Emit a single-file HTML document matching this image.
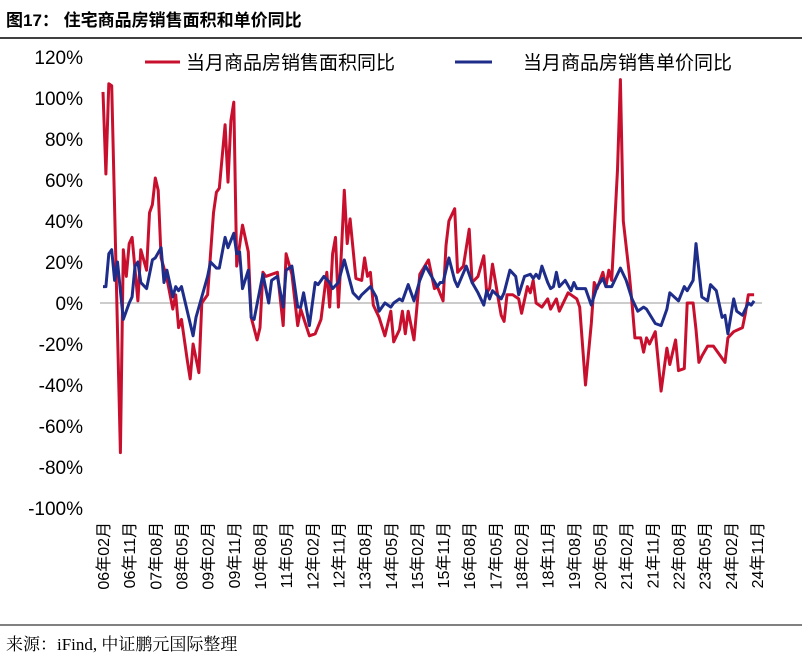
<!DOCTYPE html>
<html><head><meta charset="utf-8">
<style>
body{margin:0;background:#fff;width:802px;height:666px;overflow:hidden;font-family:"Liberation Sans","Noto Sans CJK SC",sans-serif;}
</style></head>
<body>
<svg id="c" width="802" height="666" xmlns="http://www.w3.org/2000/svg">
<text x="6" y="26" font-size="17" font-weight="bold" fill="#000" font-family="Liberation Sans, Noto Sans CJK SC, sans-serif">图17： 住宅商品房销售面积和单价同比</text>
<line x1="0" y1="38" x2="802" y2="38" stroke="#000" stroke-width="1.5"/>
<line x1="0" y1="625" x2="802" y2="625" stroke="#000" stroke-width="1"/>
<text x="6" y="650" font-size="17" fill="#000" font-family="Liberation Serif, Noto Serif CJK SC, serif">来源：iFind, 中证鹏元国际整理</text>
<g id="legend">
<line x1="145" y1="62" x2="180" y2="62" stroke="#c8102e" stroke-width="3"/>
<text x="186" y="69" font-size="19">当月商品房销售面积同比</text>
<line x1="455" y1="62" x2="492" y2="62" stroke="#1f2d8a" stroke-width="3"/>
<text x="523" y="69" font-size="19">当月商品房销售单价同比</text>
</g>
<g id="yaxis"></g>
<g id="xaxis"></g>
<g id="series"></g>
</svg>
<script>
const yTicks=[120,100,80,60,40,20,0,-20,-40,-60,-80,-100];
const xTickLabels=["06年02月","06年11月","07年08月","08年05月","09年02月","09年11月","10年08月","11年05月","12年02月","12年11月","13年08月","14年05月","15年02月","15年11月","16年08月","17年05月","18年02月","18年11月","19年08月","20年05月","21年02月","21年11月","22年08月","23年05月","24年02月","24年11月"];
const areaMonths=[0,1,2,3,6,7,8,9,10,12,13,15,16,17,18,19,20,22,24,25,26,27,29,30,31,33,34,36,38,39,40,42,43,44,45,46,48,50,51,53,54,55,56,60,62,63,65,67,68,71,73,75,77,78,79,80,81,82,83,84,85,87,89,90,91,92,93,95,97,99,100,102,103,104,105,107,109,112,114,115,117,118,119,121,122,124,126,127,129,131,132,133,134,136,137,138,139,141,143,144,146,147,148,149,151,153,154,156,157,160,161,163,164,166,168,169,170,172,173,174,175,177,178,179,181,182,183,185,186,187,188,190,192,194,195,197,198,200,201,203,204,205,206,208,210,212,214,215,217,220,221,222,224];
const areaValues=[103,63,107,106,-73,26,13,29,32,1,26,16,44,48,61,55,22,12,-3,4,-12,-8,-28,-37,-20,-34,0,4,44,54,56,87,59,89,98,18,38,25,-7,-18,-12,15,13,15,-11,24,14,-11,-3,-16,-15,-8,15,-2,24,32,-2,24,55,29,41,12,11,22,13,15,-1,-7,-16,-4,-19,-13,-4,-15,-4,-18,14,21,7,8,1,28,40,46,15,18,36,10,13,23,5,7,19,2,-6,-9,4,4,2,-5,8,5,11,0,-2,2,-3,2,-4,5,4,2,-2,-40,-10,10,7,15,8,16,11,65,109,40,15,0,-17,-17,-24,-17,-20,-14,-43,-22,-30,-18,-33,-32,0,0,-13,-29,-26,-21,-21,-25,-29,-17,-14,-12,-5,4,4];
const priceMonths=[0,1,2,3,4,5,7,9,10,11,12,13,15,17,18,20,21,22,24,25,26,27,31,32,34,36,37,39,40,42,43,45,46,47,48,50,51,52,55,57,58,60,62,63,65,67,68,69,71,73,74,76,78,79,81,83,86,88,89,92,94,95,97,99,100,102,103,105,107,109,111,113,115,116,117,119,121,122,125,127,129,131,132,133,134,137,138,140,142,143,145,147,148,149,150,151,153,154,155,156,157,159,161,162,163,166,168,170,172,173,175,178,180,182,184,186,187,190,192,194,195,198,200,201,203,204,205,206,208,209,211,213,214,215,217,218,220,222,223,224];
const priceValues=[8,8,24,26,11,20,-8,0,3,18,20,10,7,21,22,27,10,16,3,8,6,8,-16,-7,3,13,20,17,17,32,27,34,24,25,7,16,-7,-8,14,0,11,13,-2,16,18,-2,-2,5,-11,10,9,13,10,7,10,21,5,2,4,8,3,-4,0,-2,0,2,1,9,1,11,18,13,8,10,10,22,11,8,18,10,5,-1,6,2,6,2,5,16,13,4,13,14,12,14,12,18,10,7,8,15,8,11,6,10,7,7,-1,8,12,8,8,17,11,2,-4,-2,-3,-10,-11,-3,5,1,8,6,11,29,16,3,1,9,6,-7,-6,-15,2,-4,-6,0,-1,1];
const NS="http://www.w3.org/2000/svg";
const x0=103,x1=757,totalMonths=225,yZero=303,pxPerPct=2.05;
function xScale(m){return x0+m*(x1-x0)/totalMonths;}
function yScale(v){return yZero-v*pxPerPct;}
const yax=document.getElementById('yaxis');
yTicks.forEach(v=>{
  const t=document.createElementNS(NS,'text');
  t.setAttribute('x',83);t.setAttribute('y',yScale(v)+7);
  t.setAttribute('text-anchor','end');t.setAttribute('font-size','19');
  t.textContent=v+'%';
  
  
  yax.appendChild(t);
});
const zl=document.createElementNS(NS,'line');
zl.setAttribute('x1',100);zl.setAttribute('x2',762);zl.setAttribute('y1',yScale(0));zl.setAttribute('y2',yScale(0));
zl.setAttribute('stroke','#cccccc');zl.setAttribute('stroke-width','2');


yax.appendChild(zl);
const xax=document.getElementById('xaxis');
xTickLabels.forEach((s,i)=>{
  const t=document.createElementNS(NS,'text');
  const xx=xScale(i*9)+6;
  t.setAttribute('transform','translate('+xx+',522) rotate(-90)');
  t.setAttribute('text-anchor','end');t.setAttribute('font-size','16');
  t.textContent=s;
  
  
  xax.appendChild(t);
});
function drawLine(ms,vs,color,name){
  const p=document.createElementNS(NS,'polyline');
  p.setAttribute('points',ms.map((m,i)=>xScale(m).toFixed(1)+','+yScale(vs[i]).toFixed(1)).join(' '));
  p.setAttribute('fill','none');p.setAttribute('stroke',color);p.setAttribute('stroke-width','3');
  p.setAttribute('stroke-linejoin','round');
  
  
  document.getElementById('series').appendChild(p);
}
drawLine(areaMonths,areaValues,'#c8102e','area-yoy-line');
drawLine(priceMonths,priceValues,'#1f2d8a','price-yoy-line');
</script>
</body></html>
